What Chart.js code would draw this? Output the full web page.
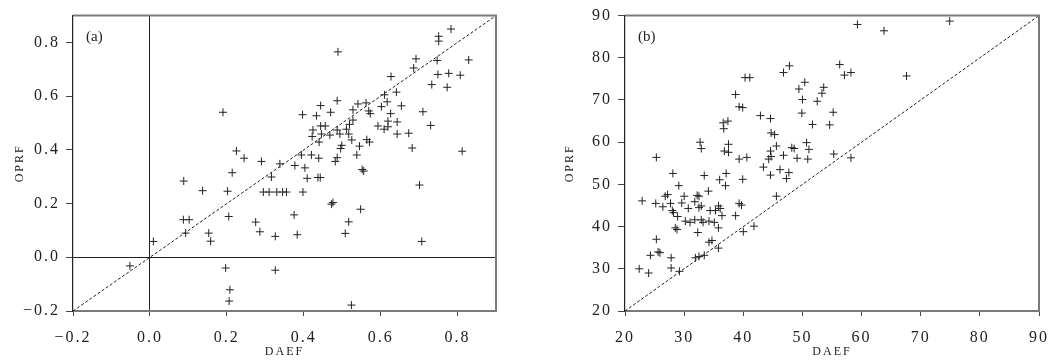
<!DOCTYPE html>
<html>
<head>
<meta charset="utf-8">
<script src="https://cdn.jsdelivr.net/npm/chart.js@4.4.0/dist/chart.umd.min.js"></script>
<style>
  html, body { margin: 0; padding: 0; background: #fff; }
  .panel { position: absolute; top: 0; height: 363px; }
</style>
</head>
<body>
<div class="panel" style="left:0;width:520px"><canvas id="chartA" width="520" height="363"></canvas></div>
<div class="panel" style="left:530px;width:529px"><canvas id="chartB" width="529" height="363"></canvas></div>
<script>
// panel (a)
const daefA = [
  0.190, 0.225, 0.245, 0.290, 0.214, 0.088, 0.137, 0.202, 0.087, 0.102,
  0.205, 0.275, 0.286, 0.093, 0.153, 0.158, 0.009, -0.052, 0.197, 0.208,
  0.206, 0.783, 0.751, 0.751, 0.489, 0.692, 0.747, 0.829, 0.686, 0.749,
  0.777, 0.807, 0.627, 0.733, 0.773, 0.641, 0.610, 0.487, 0.444, 0.541,
  0.562, 0.617, 0.602, 0.654, 0.397, 0.433, 0.470, 0.528, 0.569, 0.573,
  0.626, 0.710, 0.528, 0.519, 0.619, 0.643, 0.444, 0.456, 0.424, 0.487,
  0.511, 0.593, 0.609, 0.619, 0.730, 0.422, 0.446, 0.468, 0.494, 0.517,
  0.643, 0.673, 0.440, 0.525, 0.564, 0.571, 0.682, 0.812, 0.499, 0.496,
  0.545, 0.394, 0.420, 0.439, 0.487, 0.538, 0.338, 0.377, 0.403, 0.482,
  0.552, 0.556, 0.316, 0.409, 0.437, 0.443, 0.295, 0.310, 0.330, 0.345,
  0.355, 0.398, 0.701, 0.476, 0.472, 0.548, 0.375, 0.326, 0.383, 0.517,
  0.508, 0.707, 0.326, 0.524
];
const oprfA = [
  0.540, 0.396, 0.369, 0.357, 0.315, 0.284, 0.248, 0.246, 0.140, 0.140,
  0.152, 0.131, 0.095, 0.090, 0.090, 0.060, 0.059, -0.032, -0.040, -0.121,
  -0.163, 0.850, 0.823, 0.805, 0.765, 0.739, 0.733, 0.735, 0.705, 0.681,
  0.685, 0.678, 0.673, 0.643, 0.633, 0.615, 0.605, 0.583, 0.565, 0.571,
  0.575, 0.579, 0.561, 0.564, 0.531, 0.527, 0.540, 0.549, 0.545, 0.535,
  0.535, 0.542, 0.511, 0.495, 0.507, 0.504, 0.489, 0.489, 0.474, 0.474,
  0.477, 0.489, 0.477, 0.486, 0.491, 0.450, 0.459, 0.455, 0.459, 0.459,
  0.459, 0.462, 0.429, 0.437, 0.438, 0.429, 0.407, 0.395, 0.417, 0.405,
  0.414, 0.381, 0.381, 0.369, 0.371, 0.381, 0.348, 0.342, 0.333, 0.357,
  0.327, 0.321, 0.299, 0.294, 0.297, 0.297, 0.243, 0.243, 0.243, 0.243,
  0.243, 0.243, 0.269, 0.204, 0.198, 0.179, 0.158, 0.078, 0.084, 0.132,
  0.089, 0.059, -0.048, -0.178
];
const rangeA = [-0.2, 0.9];

// panel (b)
const daefB = [
  25.3, 28.1, 32.7, 32.9, 33.4, 36.0, 37.1, 36.6, 37.4, 36.7,
  38.7, 39.3, 39.9, 40.3, 41.1, 37.5, 36.8, 37.5, 39.3, 40.6,
  39.9, 42.9, 44.6, 44.7, 45.3, 45.6, 44.6, 44.3, 44.7, 43.4,
  44.6, 46.2, 47.7, 47.3, 46.8, 47.8, 46.8, 48.2, 48.6, 49.1,
  59.3, 63.8, 74.9, 56.3, 57.1, 58.2, 67.6, 50.4, 49.4, 53.6,
  53.3, 50.0, 52.5, 49.9, 55.2, 51.7, 54.6, 50.7, 51.1, 50.9,
  55.3, 58.2, 37.0, 45.6, 29.1, 22.9, 25.2, 26.8, 27.2, 26.4,
  27.7, 28.0, 28.2, 30.0, 32.2, 32.5, 34.1, 29.6, 30.7, 31.8,
  32.5, 32.9, 28.9, 30.2, 31.0, 31.8, 32.9, 33.2, 34.4, 35.3,
  35.8, 36.4, 36.1, 34.2, 35.1, 35.8, 28.5, 28.8, 38.7, 39.3,
  39.7, 32.3, 40.0, 41.8, 25.3, 25.6, 25.9, 24.3, 27.8, 27.8,
  22.4, 24.0, 29.2, 31.9, 32.5, 33.4, 34.2, 34.7, 35.8
];
const oprfB = [
  56.4, 52.6, 60.0, 58.5, 52.1, 51.1, 52.6, 64.6, 65.0, 63.2,
  71.3, 68.4, 68.2, 75.3, 75.3, 59.5, 57.9, 57.6, 56.0, 56.4,
  51.2, 66.3, 65.6, 62.2, 61.8, 59.1, 57.9, 56.0, 56.6, 54.1,
  52.2, 53.5, 52.8, 51.4, 76.5, 78.1, 56.9, 58.7, 58.5, 56.2,
  87.9, 86.4, 88.7, 78.4, 75.9, 76.5, 75.7, 74.2, 72.6, 73.0,
  71.6, 70.1, 69.7, 66.9, 67.1, 64.2, 64.1, 59.9, 58.3, 56.0,
  57.2, 56.3, 49.7, 47.2, 49.7, 46.1, 45.5, 47.2, 47.6, 44.7,
  45.5, 43.8, 43.3, 47.2, 47.4, 47.2, 48.4, 45.6, 44.3, 45.9,
  44.5, 44.9, 42.4, 41.3, 41.0, 41.6, 41.6, 41.0, 43.8, 43.8,
  44.9, 42.6, 44.3, 41.3, 41.0, 39.7, 39.7, 39.3, 42.6, 45.5,
  45.1, 38.6, 38.8, 40.1, 37.0, 34.0, 33.8, 33.2, 32.6, 30.2,
  30.0, 29.0, 29.4, 32.6, 32.9, 33.2, 36.3, 36.7, 34.9
];
const rangeB = [20, 90];

const serif = '"Liberation Serif", "DejaVu Serif", serif';
const ink = '#222';

const toPoints = (xs, ys) => xs.map((x, i) => ({ x: x, y: ys[i] }));
const minus = s => String(s).replace('-', '\u2212');

// the original labels use a wide-set font: space the axis text out a bit
const spacingPlugin = {
  id: 'spacing',
  beforeDraw(chart) { chart.ctx.letterSpacing = '2px'; },
  beforeDatasetsDraw(chart) { chart.ctx.letterSpacing = '0px'; }
};

// gray frame on top / right + the (a)/(b) tag
const framePlugin = {
  id: 'frame',
  afterDraw(chart, args, opts) {
    const { ctx, chartArea: a } = chart;
    ctx.save();
    ctx.letterSpacing = '0px';
    ctx.strokeStyle = '#7a7a7a';
    ctx.lineWidth = 2;
    ctx.beginPath();
    ctx.moveTo(a.left, a.top);
    ctx.lineTo(a.right, a.top);
    ctx.lineTo(a.right, a.bottom);
    ctx.stroke();
    ctx.fillStyle = ink;
    ctx.font = '15px ' + serif;
    ctx.textBaseline = 'alphabetic';
    ctx.fillText(opts.label, a.left + 13, a.top + 25);
    ctx.restore();
  }
};

function makeChart(id, xs, ys, range, opt) {
  const zeroColor = c => (opt.zeroLines && Math.abs(c.tick.value) < 1e-9) ? '#222' : 'rgba(0,0,0,0)';
  const axis = (isX) => ({
    type: 'linear',
    min: range[0],
    max: range[1],
    afterFit: s => { if (isX) s.height = 52; else s.width = opt.yWidth; },
    border: { display: true, color: isX ? '#7a7a7a' : '#222', width: isX ? 2 : 1.2 },
    grid: {
      color: zeroColor,
      lineWidth: 1,
      tickColor: '#444',
      tickLength: isX ? 5 : 7,
      drawTicks: true
    },
    ticks: {
      stepSize: opt.step,
      includeBounds: false,
      padding: isX ? 12 : 6,
      maxRotation: 0,
      color: ink,
      font: { family: serif, size: 16 },
      callback: v => minus(opt.decimals ? v.toFixed(opt.decimals) : Math.round(v))
    },
    title: {
      display: true,
      text: isX ? 'DAEF' : 'OPRF',
      color: ink,
      font: { family: serif, size: 12 },
      padding: isX ? { top: 0, bottom: 4 } : { top: opt.titlePad, bottom: 0 }
    }
  });

  return new Chart(document.getElementById(id), {
    type: 'scatter',
    data: {
      datasets: [
        {
          data: toPoints(xs, ys),
          pointStyle: 'cross',
          pointRadius: 4,
          pointBorderWidth: 1,
          borderColor: ink,
          backgroundColor: ink
        },
        {
          // 1:1 reference line
          data: toPoints(range, range),
          showLine: true,
          pointRadius: 0,
          borderColor: '#222',
          borderWidth: 1,
          borderDash: [3, 2]
        }
      ]
    },
    options: {
      responsive: false,
      animation: false,
      layout: { padding: { top: 6, right: opt.rightPad, left: 0, bottom: 0 } },
      plugins: {
        legend: { display: false },
        tooltip: { enabled: false },
        frame: { label: opt.label }
      },
      scales: { x: axis(true), y: axis(false) }
    },
    plugins: [spacingPlugin, framePlugin]
  });
}

makeChart('chartA', daefA, oprfA, rangeA, {
  label: '(a)', step: 0.2, decimals: 1, zeroLines: true,
  yWidth: 73, rightPad: 24, titlePad: 13
});
makeChart('chartB', daefB, oprfB, rangeB, {
  label: '(b)', step: 10, decimals: 0, zeroLines: false,
  yWidth: 95, rightPad: 13, titlePad: 33
});
</script>
</body>
</html>
